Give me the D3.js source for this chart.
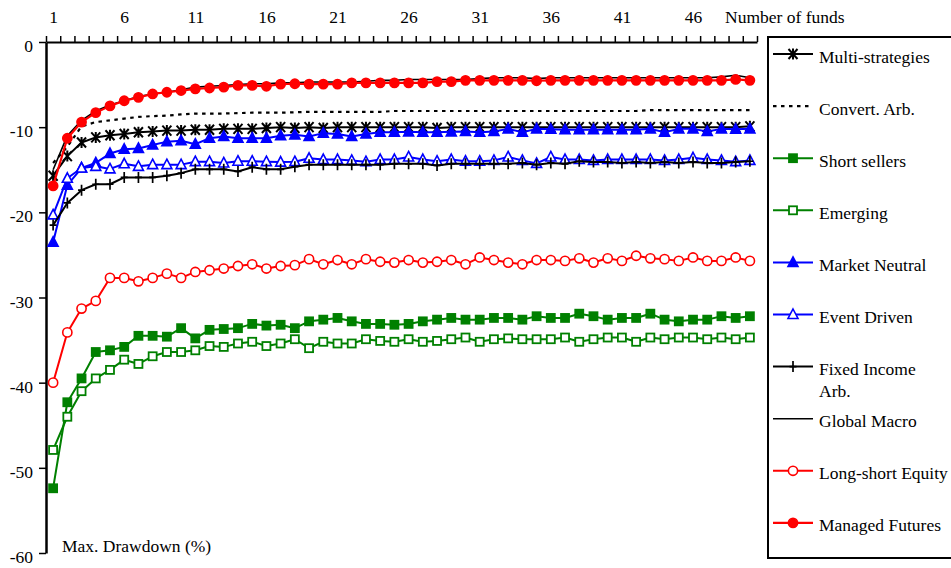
<!DOCTYPE html>
<html>
<head>
<meta charset="utf-8">
<script src="https://cdn.jsdelivr.net/npm/d3@7"></script>
<style>
  html, body { margin: 0; padding: 0; background: #fff; }
  svg { display: block; font-family: "Liberation Serif", "Times New Roman", serif; }
  svg text { font-family: "Liberation Serif", "Times New Roman", serif; }
</style>
</head>
<body>
<svg id="chart" width="951" height="568"></svg>
<script>
// ---------- data ----------
const funds = [1,2,3,4,5,6,7,8,9,10,11,12,13,14,15,16,17,18,19,20,21,22,23,24,25,
               26,27,28,29,30,31,32,33,34,35,36,37,38,39,40,41,42,43,44,45,46,47,48,49,50];
const xTickLabels = [1, 6, 11, 16, 21, 26, 31, 36, 41, 46];
const yTicks = [0, -10, -20, -30, -40, -50, -60];

const multiStrategies = [-15.7,-13.4,-11.8,-11.2,-10.95,-10.8,-10.6,-10.5,-10.4,-10.4,-10.3,-10.3,-10.2,-10.2,-10.2,-10.1,-10.0,-10.1,-10.0,-10.1,
  -10.0,-10.0,-10.0,-10.0,-10.0,-10.0,-10.0,-10.1,-10.0,-10.0,-10.0,-10.0,-10.0,-10.0,-10.0,-10.0,-10.0,-10.0,-10.0,-10.0,
  -10.0,-10.0,-10.0,-10.0,-10.0,-10.0,-10.0,-10.0,-10.0,-9.9];
const convertArb = [-14.2,-12.3,-9.9,-9.4,-9.2,-9.0,-8.8,-8.7,-8.65,-8.5,-8.4,-8.4,-8.4,-8.35,-8.3,-8.3,-8.3,-8.25,-8.2,-8.2,
  -8.2,-8.2,-8.2,-8.2,-8.1,-8.1,-8.1,-8.1,-8.1,-8.1,-8.1,-8.1,-8.1,-8.1,-8.1,-8.1,-8.1,-8.1,-8.1,-8.1,
  -8.1,-8.1,-8.0,-8.0,-8.0,-8.0,-8.0,-8.0,-8.0,-8.0];
const shortSellers = [-52.4,-42.3,-39.5,-36.4,-36.2,-35.8,-34.5,-34.5,-34.6,-33.6,-34.8,-33.8,-33.7,-33.6,-33.1,-33.3,-33.2,-33.6,-32.8,-32.6,
  -32.4,-32.8,-33.1,-33.1,-33.2,-33.1,-32.8,-32.6,-32.4,-32.6,-32.6,-32.4,-32.4,-32.6,-32.2,-32.4,-32.4,-31.9,-32.2,-32.6,
  -32.4,-32.4,-31.9,-32.6,-32.8,-32.6,-32.6,-32.2,-32.4,-32.2];
const emerging = [-47.9,-44.0,-41.0,-39.5,-38.5,-37.3,-37.8,-36.9,-36.4,-36.4,-36.2,-35.7,-35.8,-35.4,-35.2,-35.7,-35.4,-34.9,-35.95,-35.2,
  -35.4,-35.4,-34.9,-35.1,-35.2,-34.9,-35.2,-35.1,-34.9,-34.7,-35.2,-34.9,-34.8,-34.9,-34.9,-34.9,-34.7,-35.2,-34.9,-34.7,
  -34.7,-35.2,-34.7,-34.9,-34.7,-34.7,-34.9,-34.7,-34.9,-34.7];
const marketNeutral = [-23.5,-16.8,-14.8,-14.2,-13.1,-12.6,-12.5,-12.1,-11.7,-11.6,-12.0,-11.3,-11.1,-11.3,-11.3,-11.3,-11.0,-10.9,-11.1,-10.7,
  -10.8,-11.1,-10.8,-10.6,-10.6,-10.55,-10.6,-10.6,-10.55,-10.5,-10.6,-10.5,-10.2,-10.6,-10.2,-10.25,-10.3,-10.3,-10.3,-10.3,
  -10.3,-10.3,-10.2,-10.6,-10.2,-10.2,-10.5,-10.2,-10.25,-10.2];
const eventDriven = [-20.3,-16.0,-14.8,-14.6,-14.9,-14.3,-14.6,-14.4,-14.4,-14.4,-14.05,-14.05,-14.2,-14.0,-14.0,-14.05,-14.1,-14.05,-13.65,-13.8,
  -13.8,-13.9,-14.05,-13.8,-13.8,-13.5,-13.8,-14.0,-13.8,-14.0,-14.0,-13.9,-13.5,-13.9,-14.25,-13.5,-13.8,-13.8,-13.9,-13.8,
  -13.8,-13.8,-13.8,-13.9,-13.8,-13.6,-13.8,-13.9,-14.05,-13.9];
const fixedIncomeArb = [-21.5,-18.9,-17.4,-16.7,-16.7,-15.9,-15.9,-15.9,-15.7,-15.4,-14.95,-14.95,-14.95,-15.2,-14.7,-14.95,-14.95,-14.65,-14.4,-14.4,
  -14.4,-14.4,-14.4,-14.4,-14.3,-14.3,-14.3,-14.5,-14.3,-14.3,-14.3,-14.3,-14.3,-14.2,-14.4,-14.2,-14.3,-14.0,-14.1,-14.1,
  -14.2,-14.1,-14.2,-14.1,-14.2,-14.1,-14.2,-14.2,-14.1,-14.0];
const globalMacro = [-15.0,-11.0,-9.2,-8.1,-7.4,-6.9,-6.4,-6.1,-5.9,-5.6,-5.3,-5.2,-5.1,-5.0,-4.9,-4.9,-4.8,-4.8,-4.7,-4.7,
  -4.7,-4.7,-4.6,-4.5,-4.5,-4.4,-4.4,-4.4,-4.4,-4.4,-4.3,-4.2,-4.2,-4.2,-4.3,-4.2,-4.2,-4.2,-4.2,-4.2,
  -4.2,-4.2,-4.2,-4.2,-4.2,-4.2,-4.2,-4.1,-3.9,-4.2];
const longShortEquity = [-40.0,-34.1,-31.3,-30.4,-27.7,-27.7,-28.1,-27.7,-27.2,-27.7,-27.0,-26.8,-26.6,-26.3,-26.1,-26.6,-26.3,-26.2,-25.5,-26.1,
  -25.6,-26.1,-25.5,-25.8,-25.9,-25.6,-25.9,-25.8,-25.6,-26.1,-25.3,-25.6,-25.9,-26.1,-25.6,-25.6,-25.7,-25.4,-25.9,-25.4,
  -25.7,-25.1,-25.4,-25.5,-25.7,-25.3,-25.7,-25.7,-25.3,-25.7];
const managedFutures = [-16.9,-11.3,-9.4,-8.3,-7.5,-6.9,-6.5,-6.1,-5.9,-5.7,-5.5,-5.4,-5.3,-5.1,-5.1,-5.2,-4.95,-4.9,-4.95,-4.95,
  -4.95,-4.8,-4.8,-4.8,-4.8,-4.8,-4.8,-4.65,-4.65,-4.5,-4.5,-4.5,-4.5,-4.5,-4.55,-4.5,-4.5,-4.5,-4.5,-4.5,
  -4.5,-4.5,-4.5,-4.5,-4.5,-4.5,-4.5,-4.5,-4.4,-4.5];

const seriesNames = ["Multi-strategies","Convert. Arb.","Short sellers","Emerging","Market Neutral",
  "Event Driven","Fixed Income Arb.","Global Macro","Long-short Equity","Managed Futures"];
const seriesValues = [multiStrategies, convertArb, shortSellers, emerging, marketNeutral,
  eventDriven, fixedIncomeArb, globalMacro, longShortEquity, managedFutures];

// ---------- styles ----------
const BLACK = "#000000", GREEN = "#008000", BLUE = "#0000ff", RED = "#ff0000";
const styles = [
  {color: BLACK, width: 2, marker: "asterisk"},
  {color: BLACK, width: 2.2, dash: "3.5,4.5", marker: null},
  {color: GREEN, width: 2, marker: "square", fill: GREEN},
  {color: GREEN, width: 2, marker: "square", fill: "#fff"},
  {color: BLUE, width: 2, marker: "triangle", fill: BLUE},
  {color: BLUE, width: 2, marker: "triangle", fill: "#fff"},
  {color: BLACK, width: 2, marker: "plus"},
  {color: BLACK, width: 1.6, marker: null},
  {color: RED, width: 2, marker: "circle", fill: "#fff"},
  {color: RED, width: 2.2, marker: "circle", fill: RED}
];

// ---------- layout ----------
const SERIF = "Liberation Serif";
const svg = d3.select("#chart");
const L = 46, R = 757, T = 42, B = 553;
const FONT = 17.5;

const x = d3.scaleLinear().domain([0.5, 50.5]).range([L, R]);
const y = d3.scaleLinear().domain([-60, 0]).range([B, T]);

// top category axis: tick marks between categories
const tickBounds = funds.map(d => d - 0.5).concat([funds[funds.length - 1] + 0.5]);
const xAxisTicks = svg.append("g")
  .attr("transform", `translate(0,${T})`)
  .call(d3.axisTop(x).tickValues(tickBounds).tickFormat("").tickSize(6).tickSizeOuter(0));
xAxisTicks.select(".domain").attr("stroke-width", 2);
xAxisTicks.selectAll(".tick line").attr("stroke-width", 1.5);

const xAxisLabels = svg.append("g")
  .attr("transform", `translate(0,${T})`)
  .call(d3.axisTop(x).tickValues(xTickLabels).tickFormat(d => String(d)).tickSize(0).tickPadding(19));
xAxisLabels.attr("font-family", SERIF).attr("font-size", FONT);
xAxisLabels.select(".domain").remove();
xAxisLabels.selectAll("text").attr("font-size", FONT).attr("font-family", SERIF).attr("fill", "#000");

svg.append("text").attr("x", 725).attr("y", 23)
  .attr("font-size", FONT).attr("font-family", SERIF).text("Number of funds");

// left value axis
const yAxis = svg.append("g")
  .attr("transform", `translate(${L},0)`)
  .call(d3.axisLeft(y).tickValues(yTicks).tickFormat(d => String(d)).tickSize(7).tickPadding(6).tickSizeOuter(0));
yAxis.attr("font-family", SERIF).attr("font-size", FONT);
yAxis.select(".domain").attr("stroke-width", 2.5);
yAxis.selectAll(".tick line").attr("stroke-width", 1.5);
yAxis.selectAll("text").attr("font-size", FONT).attr("font-family", SERIF)
  .attr("fill", "#000").attr("dy", "0.55em");

svg.append("text").attr("x", 62).attr("y", 552)
  .attr("font-size", FONT).attr("font-family", SERIF).text("Max. Drawdown (%)");

// ---------- marker drawing ----------
function drawMarker(g, type, st, cx, cy) {
  if (!type) return;
  if (type === "circle") {
    g.append("circle").attr("cx", cx).attr("cy", cy).attr("r", 4.6)
      .attr("fill", st.fill).attr("stroke", st.color).attr("stroke-width", 1.6);
  } else if (type === "square") {
    g.append("rect").attr("x", cx - 4).attr("y", cy - 4).attr("width", 8).attr("height", 8)
      .attr("fill", st.fill).attr("stroke", st.color).attr("stroke-width", 1.8);
  } else if (type === "triangle") {
    g.append("path").attr("d", `M${cx},${cy - 5.5}L${cx + 5},${cy + 4}L${cx - 5},${cy + 4}Z`)
      .attr("fill", st.fill).attr("stroke", st.color).attr("stroke-width", 1.6);
  } else if (type === "asterisk") {
    g.append("path").attr("d", `M${cx - 4.5},${cy - 5}L${cx + 4.5},${cy + 5}M${cx - 4.5},${cy + 5}L${cx + 4.5},${cy - 5}M${cx},${cy - 5.5}L${cx},${cy + 5.5}`)
      .attr("stroke", st.color).attr("stroke-width", 2).attr("fill", "none");
  } else if (type === "plus") {
    g.append("path").attr("d", `M${cx},${cy - 5.5}L${cx},${cy + 5.5}M${cx - 3.5},${cy}L${cx + 3.5},${cy}`)
      .attr("stroke", st.color).attr("stroke-width", 1.7).attr("fill", "none");
  }
}

// ---------- series ----------
const line = d3.line().x(d => x(d[0])).y(d => y(d[1]));
const plot = svg.append("g");
seriesValues.forEach((vals, i) => {
  const st = styles[i];
  const pts = funds.map((f, j) => [f, vals[j]]);
  const g = plot.append("g");
  g.append("path").attr("d", line(pts)).attr("fill", "none")
    .attr("stroke", st.color).attr("stroke-width", st.width)
    .attr("stroke-dasharray", st.dash || null).attr("stroke-linejoin", "round");
  pts.forEach(p => drawMarker(g, st.marker, st, x(p[0]), y(p[1])));
});

// ---------- legend ----------
const lg = svg.append("g").attr("font-family", SERIF);
lg.append("rect").attr("x", 768).attr("y", 37).attr("width", 200).attr("height", 521)
  .attr("fill", "none").attr("stroke", "#000").attr("stroke-width", 2);
seriesNames.forEach((name, i) => {
  const st = styles[i];
  const ly = 54 + i * 52.1;
  lg.append("line").attr("x1", 773).attr("x2", 813).attr("y1", ly).attr("y2", ly)
    .attr("stroke", st.color).attr("stroke-width", st.width)
    .attr("stroke-dasharray", st.dash || null);
  drawMarker(lg, st.marker, st, 793, ly);
  const t = lg.append("text").attr("x", 819).attr("y", ly + 8.5)
    .attr("font-size", FONT).attr("font-family", SERIF);
  if (name === "Fixed Income Arb.") {
    t.append("tspan").attr("x", 819).text("Fixed Income");
    t.append("tspan").attr("x", 819).attr("dy", 22).text("Arb.");
  } else {
    t.text(name);
  }
});
</script>
</body>
</html>
